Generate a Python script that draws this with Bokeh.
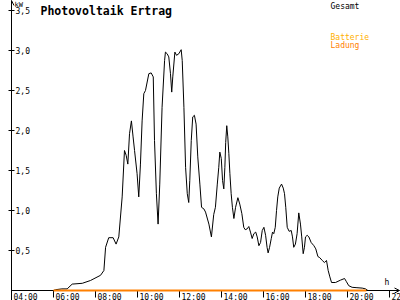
from bokeh.plotting import figure
from bokeh.models import Range1d, FixedTicker, Arrow, OpenHead
from bokeh.core.properties import value
from bokeh.embed import file_html
from bokeh.resources import INLINE

# ---- data (hours of day, kW) ----
gesamt_h = [6.00, 6.10, 6.40, 6.65, 6.89, 7.37, 7.76, 8.24, 8.40, 8.48, 8.63, 8.84, 8.98, 9.11,
            9.27, 9.38, 9.46, 9.54, 9.62, 9.71, 9.79, 9.86, 9.98, 10.06, 10.14, 10.22, 10.30,
            10.38, 10.54, 10.65, 10.75, 10.81, 10.90, 10.98, 11.06, 11.17, 11.29, 11.33, 11.41,
            11.49, 11.57, 11.63, 11.68, 11.78, 11.86, 11.97, 12.08, 12.13, 12.21, 12.29, 12.37,
            12.44, 12.49, 12.56, 12.63, 12.71, 12.79, 12.87, 12.97, 13.05, 13.16, 13.24, 13.40,
            13.52, 13.63, 13.71, 13.80, 13.87, 13.92, 13.99, 14.05, 14.11, 14.16, 14.20, 14.25,
            14.30, 14.35, 14.40, 14.46, 14.52, 14.59, 14.67, 14.78, 14.87, 14.97, 15.06, 15.13,
            15.22, 15.30, 15.38, 15.46, 15.54, 15.63, 15.70, 15.78, 15.86, 15.94, 16.02, 16.10,
            16.17, 16.22, 16.29, 16.37, 16.43, 16.49, 16.56, 16.62, 16.68, 16.75, 16.86, 16.94,
            17.00, 17.06, 17.13, 17.22, 17.32, 17.38, 17.44, 17.52, 17.60, 17.68, 17.76, 17.82,
            17.89, 17.95, 18.00, 18.08, 18.16, 18.27, 18.40, 18.49, 18.59, 18.68, 18.80, 18.90,
            19.00, 19.08, 19.16, 19.24, 19.43, 19.67, 19.86, 19.95, 20.06, 20.22, 20.45, 20.70,
            20.86, 20.97]
gesamt_kw = [0.00, 0.01, 0.02, 0.02, 0.08, 0.09, 0.125, 0.19, 0.25, 0.54, 0.66, 0.66, 0.58, 0.67,
             1.17, 1.75, 1.69, 1.58, 1.96, 2.12, 1.92, 1.75, 1.46, 1.17, 1.58, 2.12, 2.46,
             2.50, 2.71, 2.72, 2.67, 1.875, 1.21, 0.83, 1.33, 2.29, 2.875, 2.98, 2.96,
             2.92, 2.71, 2.48, 2.67, 2.98, 2.94, 2.96, 3.01, 2.875, 2.29, 1.54, 1.21,
             1.10, 1.375, 1.875, 2.17, 2.19, 2.08, 1.67, 1.33, 1.04, 1.02, 0.98, 0.83,
             0.67, 0.95, 1.04, 1.33, 1.54, 1.73, 1.65, 1.375, 1.27, 1.54, 1.85, 2.06,
             1.92, 1.71, 1.46, 1.21, 1.04, 0.90, 1.04, 1.16, 1.08, 0.96, 0.79, 0.76,
             0.77, 0.80, 0.73, 0.65, 0.71, 0.73, 0.67, 0.56, 0.60, 0.75, 0.79, 0.69,
             0.54, 0.47, 0.54, 0.65, 0.73, 0.71, 0.79, 1.00, 1.17, 1.28, 1.33, 1.28,
             1.21, 1.04, 0.79, 0.74, 0.75, 0.67, 0.54, 0.58, 0.71, 0.97, 0.83, 0.67,
             0.46, 0.54, 0.67, 0.69, 0.67, 0.60, 0.56, 0.52, 0.425, 0.41, 0.375, 0.35,
             0.375, 0.25, 0.17, 0.10, 0.10, 0.13, 0.15, 0.11, 0.06, 0.04, 0.035, 0.03,
             0.02, 0.00]
ladung_h = [6.0, 20.9]
ladung_kw = [0.0, 0.0]

x_ticks = [4, 6, 8, 10, 12, 14, 16, 18, 20, 22]
x_labels = ["04:00", "06:00", "08:00", "10:00", "12:00", "14:00", "16:00", "18:00", "20:00", "22:00"]
y_ticks = [0.5, 1.0, 1.5, 2.0, 2.5, 3.0, 3.5]
y_labels = ["0,5", "1,0", "1,5", "2,0", "2,5", "3,0", "3,5"]

title_text = "Photovoltaik Ertrag"
legend_names = ["Gesamt", "Batterie", "Ladung"]
legend_colors = ["#000000", "#ffb000", "#ff8000"]
y_unit = "kW"
x_unit = "h"

# ---- layout ----
PX_PER_H = 21.0
PX_PER_KW = 80.0
W, H = 400, 300
LEFT = 11          # y axis position (px)
ZERO_Y = 290       # y=0 position (px)
x0 = 4.0
x1 = x0 + (W - LEFT) / PX_PER_H
y0 = -(H - ZERO_Y) / PX_PER_KW
y1 = ZERO_Y / PX_PER_KW


def hx(px):  # canvas px -> hours
    return x0 + (px - LEFT) / PX_PER_H


def ky(py):  # canvas px -> kW
    return (ZERO_Y - py) / PX_PER_KW


MONO = "DejaVu Sans Mono"

p = figure(width=W, height=H, output_backend="svg", toolbar_location=None,
           x_range=Range1d(x0, x1), y_range=Range1d(y0, y1),
           x_axis_location=None,
           min_border_left=LEFT, min_border_right=0, min_border_top=0,
           min_border_bottom=0, background_fill_color="white",
           border_fill_color="white")
p.outline_line_color = None
p.grid.visible = False

# y axis (labels drawn inside the frame, right of the axis line)
ya = p.yaxis[0]
ya.ticker = FixedTicker(ticks=y_ticks)
ya.major_label_overrides = {t: "" for t in y_ticks}
ya.major_label_standoff = 0
ya.minor_tick_line_color = None
ya.major_tick_in = 3
ya.major_tick_out = 3
ya.axis_line_color = "black"
ya.major_tick_line_color = "black"

# x axis: baseline, ticks below it, labels right of each tick
p.line([x0, hx(398)], [0, 0], line_color="black", line_width=1)
p.segment(x0=x_ticks, y0=[0] * len(x_ticks), x1=x_ticks, y1=[-7 / PX_PER_KW] * len(x_ticks),
          line_color="black", line_width=1)
p.text(x=x_ticks, y=[0] * len(x_ticks), text=x_labels, x_offset=2, y_offset=2,
       text_align="left", text_baseline="top", text_font=value(MONO),
       text_font_size="8px", text_color="black")

# series
p.line(gesamt_h, gesamt_kw, line_color="black", line_width=1)
p.line(ladung_h, ladung_kw, line_color=legend_colors[2], line_width=2)

# y tick labels
p.text(x=[x0] * len(y_ticks), y=y_ticks, text=y_labels, x_offset=4,
       text_align="left", text_baseline="middle", text_font=value(MONO),
       text_font_size="8px", text_color="black")

# units
p.text(x=[x0], y=[y1], text=[y_unit], x_offset=3, text_align="left",
       text_baseline="top", text_font=value(MONO), text_font_size="7px", text_color="black")
p.text(x=[hx(384)], y=[ky(277)], text=[x_unit], text_align="left", text_baseline="top",
       text_font=value(MONO), text_font_size="8px", text_color="black")

# title
p.text(x=[hx(40)], y=[ky(3)], text=[title_text], text_align="left", text_baseline="top",
       text_font=value(MONO), text_font_style="bold", text_font_size="11.5px", text_color="black")

# legend texts
p.text(x=[hx(330)] * 3, y=[ky(1), ky(32), ky(40)], text=legend_names, text_color=legend_colors,
       text_align="left", text_baseline="top", text_font=value(MONO), text_font_size="8px")

# axis arrows
p.add_layout(Arrow(end=OpenHead(size=5, line_width=1, line_color="black"), line_color="black",
                   x_start=x0, y_start=y1 - 0.1, x_end=x0, y_end=y1))
p.add_layout(Arrow(end=OpenHead(size=5, line_width=1, line_color="black"), line_color="black",
                   x_start=hx(390), y_start=0, x_end=hx(399), y_end=0))

open("out.html", "w").write(file_html(p, INLINE))
